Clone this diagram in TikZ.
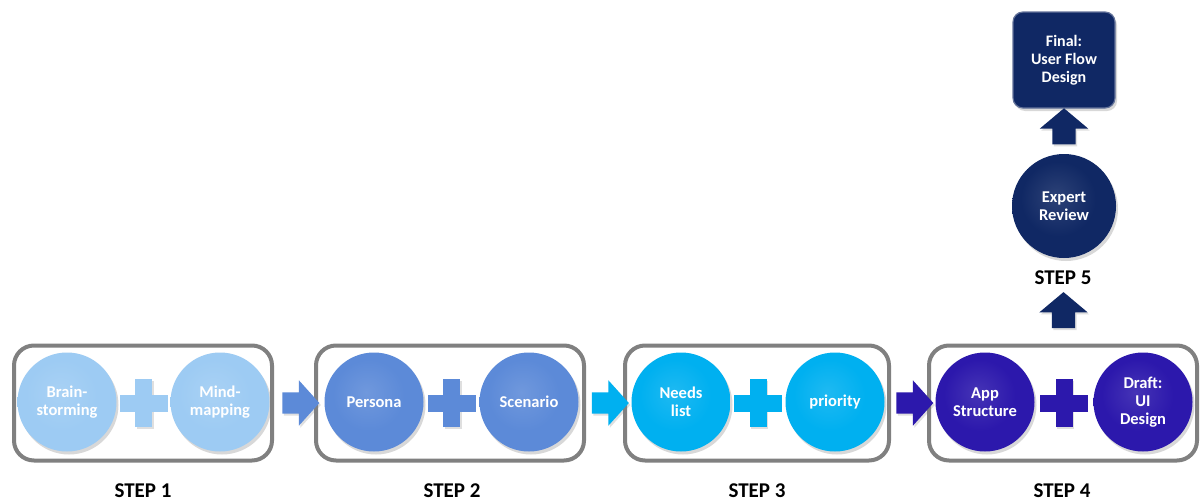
\documentclass[tikz,border=0pt]{standalone}
\usepackage{fontspec}
\setmainfont{Carlito}
\usetikzlibrary{shapes.arrows,shadows,calc}
\definecolor{cA}{RGB}{157,203,243}
\definecolor{cB}{RGB}{92,138,216}
\definecolor{cC}{RGB}{0,176,240}
\definecolor{cD}{RGB}{44,24,172}
\definecolor{cE}{RGB}{16,40,100}
\definecolor{grpgray}{RGB}{128,128,128}
\colorlet{bcol}{cA}
\pgfdeclareradialshading[bcol]{bevel}{\pgfpoint{-4bp}{5bp}}{%
  color(0bp)=(bcol!88!white); color(18bp)=(bcol); color(36bp)=(bcol);
  color(45bp)=(bcol!80!black); color(51bp)=(bcol!60!black); color(57bp)=(bcol!45!black)}
\tikzset{
  grp/.style={draw=grpgray, line width=4pt, rounded corners=20pt,
    minimum height=115pt, inner sep=0pt},
  circ/.style={circle, minimum size=99pt, inner sep=0pt,
    /utils/exec={\colorlet{bcol}{#1}}, shading=bevel,
    drop shadow={opacity=0.3, shadow xshift=2pt, shadow yshift=-3pt},
    text=white, align=center, font=\bfseries\fontsize{16.5}{18}\selectfont},
  plusv/.style={fill=#1, minimum width=17pt, minimum height=48pt, inner sep=0pt,
    drop shadow={opacity=0.25, shadow xshift=1.5pt, shadow yshift=-2pt}},
  plush/.style={fill=#1, minimum width=48pt, minimum height=17pt, inner sep=0pt},
  rarrow/.style={single arrow, fill=#1, minimum height=37pt, inner xsep=0pt,
    inner ysep=10.5pt, single arrow head extend=12pt, single arrow tip angle=96,
    drop shadow={opacity=0.25, shadow xshift=1.5pt, shadow yshift=-2pt}},
  uarrow/.style={single arrow, fill=cE, minimum height=36pt, inner sep=11.5pt,
    single arrow head extend=12.5pt, single arrow tip angle=100,
    shape border rotate=90,
    drop shadow={opacity=0.25, shadow xshift=1.5pt, shadow yshift=-2pt}},
  steplabel/.style={font=\bfseries\fontsize{21}{24}\selectfont, text=black},
  finalbox/.style={fill=cE, draw=cE!65!white, line width=1.2pt, rounded corners=10pt,
    minimum width=102pt, minimum height=96pt, inner sep=0pt,
    drop shadow={opacity=0.3, shadow xshift=2pt, shadow yshift=-3pt},
    text=white, align=center, font=\bfseries\fontsize{16}{18}\selectfont},
}
\begin{document}
\begin{tikzpicture}[x=1pt,y=-1pt]
\useasboundingbox[fill=white] (0,0) rectangle (1202,501);
% groups
\node[grp, minimum width=258pt] (g1) at (143,403) {};
\node[grp, minimum width=268pt] (g2) at (450,403) {};
\node[grp, minimum width=264pt] (g3) at (757,403) {};
\node[grp, minimum width=268pt] (g4) at (1063,403) {};
% step 1
\node[circ=cA] (c1a) at (67,402) {Brain-\\storming};
\node[circ=cA] (c1b) at (220,402) {Mind-\\mapping};
\node[plusv=cA] (p1v) at ($(c1a)!0.5!(c1b)+(0,1)$) {};
\node[plush=cA] (p1h) at (p1v) {};
% step 2
\node[circ=cB] (c2a) at (374,402) {Persona};
\node[circ=cB] (c2b) at (529,402) {Scenario};
\node[plusv=cB] (p2v) at ($(c2a)!0.5!(c2b)+(0,1)$) {};
\node[plush=cB] (p2h) at (p2v) {};
% step 3
\node[circ=cC] (c3a) at (681,402) {Needs\\list};
\node[circ=cC] (c3b) at (835,402) {priority};
\node[plusv=cC] (p3v) at ($(c3a)!0.5!(c3b)+(0,1)$) {};
\node[plush=cC] (p3h) at (p3v) {};
% step 4
\node[circ=cD] (c4a) at (985,402) {App\\Structure};
\node[circ=cD] (c4b) at (1143,402) {Draft:\\UI\\Design};
\node[plusv=cD] (p4v) at ($(c4a)!0.5!(c4b)+(0,1)$) {};
\node[plush=cD] (p4h) at (p4v) {};
% arrows between groups
\node[rarrow=cB] (a1) at ($(g1.east)!0.5!(g2.west)+(2,0)$) {};
\node[rarrow=cC] (a2) at ($(g2.east)!0.5!(g3.west)+(1,0)$) {};
\node[rarrow=cD] (a3) at ($(g3.east)!0.5!(g4.west)+(1,0)$) {};
% step labels
\node[steplabel] (s1) at (143,491) {STEP 1};
\node[steplabel] (s2) at (452,491) {STEP 2};
\node[steplabel] (s3) at (757,491) {STEP 3};
\node[steplabel] (s4) at (1062,491) {STEP 4};
% step 5
\node[circ=cE, minimum size=104pt] (c5) at (1064,206) {Expert\\Review};
\node[steplabel] (s5) at (1063,278) {STEP 5};
\node[finalbox] (fin) at (1064,60) {Final:\\User Flow\\Design};
\node[uarrow] (u1) at (1063.5,315) {};
\node[uarrow] (u2) at ($(fin.south)!0.5!(c5.north)$) {};
\end{tikzpicture}
\end{document}
